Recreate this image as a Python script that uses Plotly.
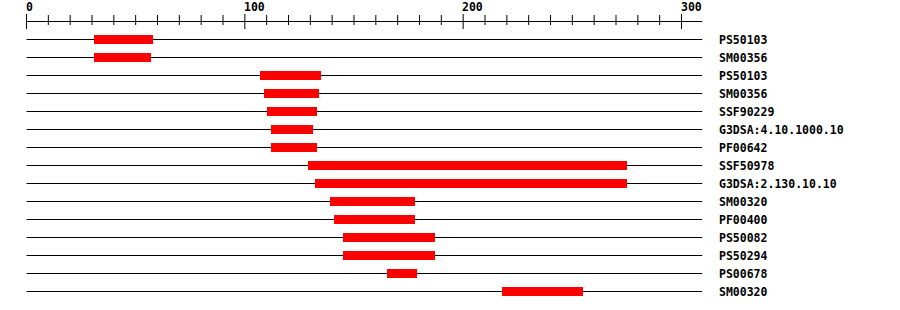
import plotly.graph_objects as go

# ---- data ----
labels = ["PS50103", "SM00356", "PS50103", "SM00356", "SSF90229",
          "G3DSA:4.10.1000.10", "PF00642", "SSF50978", "G3DSA:2.130.10.10",
          "SM00320", "PF00400", "PS50082", "PS50294", "PS00678", "SM00320"]
starts = [31, 31, 107, 109, 110, 112, 112, 129, 132, 139, 141, 145, 145, 165, 218]
ends = [58, 57, 135, 134, 133, 131, 133, 275, 275, 178, 178, 187, 187, 179, 255]
seq_length = 309.5
major_ticks = [0, 100, 200, 300]
minor_ticks = list(range(0, 301, 10))

# ---- geometry (pixel mapping) ----
W, H = 900, 310
x0_px, px_per_unit = 26.5, 655 / 300
row0_px, row_step = 39.5, 18
x_range = [-x0_px / px_per_unit, (W - x0_px) / px_per_unit]
y_range = [(H - row0_px) / row_step, -row0_px / row_step]

FONT = dict(family="DejaVu Sans Mono", size=11.5, color="black")

fig = go.Figure()
rows = list(range(len(labels)))

# row baselines (below the bars)
shapes = []
for i in rows:
    shapes.append(dict(type="line", xref="x", yref="y", x0=0, x1=seq_length,
                       y0=i, y1=i, layer="below",
                       line=dict(color="black", width=1)))

# domain bars
fig.add_trace(go.Bar(y=rows, x=[e - s for s, e in zip(starts, ends)], base=starts,
                     orientation="h", width=0.5,
                     marker=dict(color="#ff0000", line=dict(width=0)),
                     showlegend=False))

# top ruler
axis_y = -1.0
tx, ty = [0, seq_length, None], [axis_y, axis_y, None]
for t in minor_ticks:
    if t in major_ticks:
        tx += [t, t, None]
        ty += [axis_y - 7.5 / row_step, axis_y + 7.5 / row_step, None]
    else:
        tx += [t, t, None]
        ty += [axis_y - 6.5 / row_step, axis_y + 3.5 / row_step, None]
fig.add_trace(go.Scatter(x=tx, y=ty, mode="lines",
                         line=dict(color="black", width=1),
                         hoverinfo="skip", showlegend=False))

annotations = []
for t in major_ticks:
    annotations.append(dict(x=t, y=-1.78, xref="x", yref="y", text=f"<b>{t}</b>",
                            showarrow=False, xanchor="left", yanchor="middle",
                            xshift=-3, font=FONT))
label_x = (717 - x0_px) / px_per_unit
for i, lab in enumerate(labels):
    annotations.append(dict(x=label_x, y=i, xref="x", yref="y", text=f"<b>{lab}</b>",
                            showarrow=False, xanchor="left", yanchor="middle",
                            font=FONT))

fig.update_layout(
    width=W, height=H,
    margin=dict(l=0, r=0, t=0, b=0),
    paper_bgcolor="white", plot_bgcolor="rgba(0,0,0,0)",
    xaxis=dict(range=x_range, visible=False, fixedrange=True),
    yaxis=dict(range=y_range, visible=False, fixedrange=True),
    annotations=annotations,
    shapes=shapes,
    bargap=0,
)

fig.write_html("out.html")
